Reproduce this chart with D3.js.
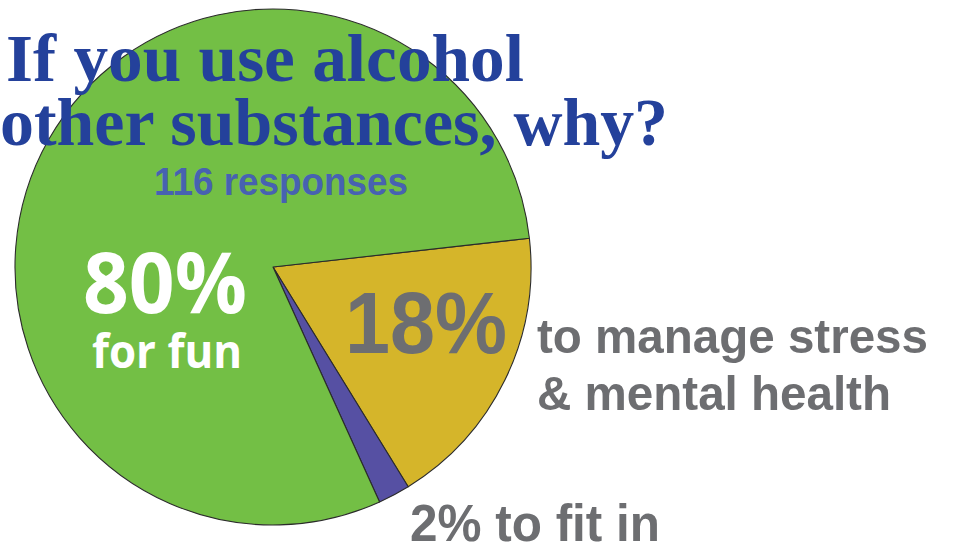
<!DOCTYPE html>
<html>
<head>
<meta charset="utf-8">
<script src="https://cdn.jsdelivr.net/npm/d3@7"></script>
<style>
  html, body { margin: 0; padding: 0; background: #fff; overflow: hidden; }
  svg { display: block; }
</style>
</head>
<body>
<svg id="chart" width="955" height="544"></svg>
<script>
// reasons given, clockwise from the yellow slice
const reasons = ['to manage stress & mental health', 'to fit in', 'for fun'];
const shares = [18, 2, 80];
const sliceColors = ['#d5b52a', '#5650a3', '#73bf45'];
const titleLines = ['If you use alcohol', 'other substances, why?'];
const subtitle = '116 responses';
const stressLines = ['to manage stress', '& mental health'];

const svg = d3.select('#chart');
const cx = 273, cy = 267, r = 258;

const data = reasons.map((d, i) => ({ reason: d, share: shares[i], color: sliceColors[i] }));

const start = 83.6 * Math.PI / 180;
const pie = d3.pie()
    .sort(null)
    .value(d => d.share)
    .startAngle(start)
    .endAngle(start + 2 * Math.PI);

const arc = d3.arc().innerRadius(0).outerRadius(r);

const g = svg.append('g').attr('transform', `translate(${cx},${cy})`);
g.selectAll('path')
    .data(pie(data))
    .enter().append('path')
    .attr('d', arc)
    .attr('fill', d => d.data.color)
    .attr('stroke', '#2b2b2b')
    .attr('stroke-width', 1.1)
    .attr('stroke-linejoin', 'round');

// title (sits over the pie)
const serif = '"Liberation Serif", "Times New Roman", serif';
svg.append('text')
    .attr('x', 6).attr('y', 81)
    .attr('textLength', 518).attr('lengthAdjust', 'spacingAndGlyphs')
    .style('font', `bold 67px ${serif}`)
    .attr('fill', '#24419b')
    .text(titleLines[0]);
svg.append('text')
    .attr('x', 0).attr('y', 145)
    .attr('textLength', 668).attr('lengthAdjust', 'spacingAndGlyphs')
    .style('font', `bold 67px ${serif}`)
    .attr('fill', '#24419b')
    .text(titleLines[1]);

const sans = '"Liberation Sans", Arial, sans-serif';
svg.append('text')
    .attr('x', 154).attr('y', 195)
    .attr('textLength', 254).attr('lengthAdjust', 'spacingAndGlyphs')
    .style('font', `bold 38px ${sans}`)
    .attr('fill', '#4762b1')
    .text(subtitle);

// 80% for fun
const open = '"Open Sans", sans-serif';
svg.append('text')
    .attr('x', 83).attr('y', 313)
    .attr('textLength', 164).attr('lengthAdjust', 'spacingAndGlyphs')
    .style('font', `bold 85px ${open}`)
    .attr('fill', '#fff')
    .text(shares[2] + '%');
svg.append('text')
    .attr('x', 92).attr('y', 368)
    .attr('textLength', 150).attr('lengthAdjust', 'spacingAndGlyphs')
    .style('font', `bold 46px ${open}`)
    .attr('fill', '#fff')
    .text(reasons[2]);

// 18%
const gray = '#6d6e71';
svg.append('text')
    .attr('x', 345).attr('y', 353)
    .attr('textLength', 162).attr('lengthAdjust', 'spacingAndGlyphs')
    .style('font', `bold 88px ${sans}`)
    .attr('fill', gray)
    .text(shares[0] + '%');

svg.append('text')
    .attr('x', 537).attr('y', 353)
    .attr('textLength', 391).attr('lengthAdjust', 'spacingAndGlyphs')
    .style('font', `bold 49px ${sans}`)
    .attr('fill', gray)
    .text(stressLines[0]);
svg.append('text')
    .attr('x', 537).attr('y', 410)
    .attr('textLength', 354).attr('lengthAdjust', 'spacingAndGlyphs')
    .style('font', `bold 49px ${sans}`)
    .attr('fill', gray)
    .text(stressLines[1]);

// 2% to fit in (runs off the bottom edge, as in the original)
svg.append('text')
    .attr('x', 410).attr('y', 541)
    .attr('textLength', 250).attr('lengthAdjust', 'spacingAndGlyphs')
    .style('font', `bold 52px ${sans}`)
    .attr('fill', gray)
    .text(shares[1] + '% ' + reasons[1]);
</script>
</body>
</html>
